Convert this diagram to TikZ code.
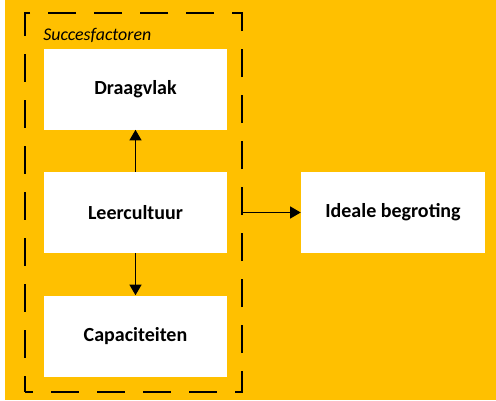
\documentclass[tikz,border=0pt]{standalone}
\usepackage{fontspec}
\setmainfont{Carlito}
\usetikzlibrary{arrows.meta}
\definecolor{gold}{HTML}{FFC000}
\begin{document}
\begin{tikzpicture}[x=0.75pt,y=-0.75pt,
  box/.style={fill=white,draw=none,minimum width=183*0.75pt,minimum height=81*0.75pt,inner sep=0pt,font=\bfseries\fontsize{15}{18}\selectfont},
  conn/.style={line width=1.1pt,-{Triangle[length=8pt,width=9pt]}}]
\useasboundingbox (0,0) rectangle (496,400);
\fill[gold] (5,0) rectangle (496,400);
\node[draw=black,line width=1.5pt,dash pattern=on 21pt off 13.5pt,dash phase=15pt,
  minimum width=217*0.75pt,minimum height=379*0.75pt,inner sep=0pt] (sf) at (133.5,202.5) {};
\node[anchor=base west,inner sep=0pt,font=\itshape\fontsize{13.4}{15}\selectfont] (sft) at (43,40) {Succesfactoren};
\node[box] (dv) at (135.5,89) {Draagvlak};
\node[box] (lc) at (135.5,212.5) {Leercultuur};
\node[box] (cp) at (135.5,336) {Capaciteiten};
\node[box,minimum width=184*0.75pt] (ib) at (393,212.5) {Ideale begroting};
\draw[conn] (lc) -- (dv);
\draw[conn] (lc) -- (cp);
\draw[conn] (sf.east |- lc.east) -- (ib.west);
\end{tikzpicture}
\end{document}
